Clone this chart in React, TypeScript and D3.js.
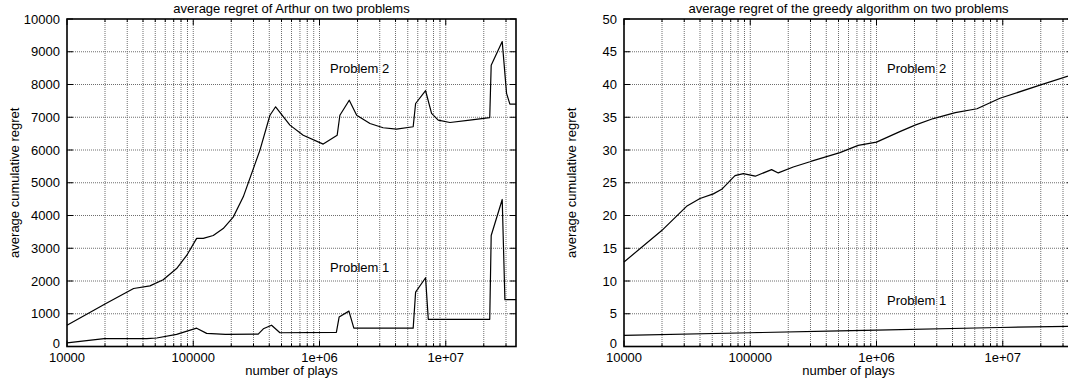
import React, { useEffect, useRef } from 'react'
import * as d3 from 'd3'

// number of plays (x) and average cumulative regret (y)
const arthurP2X = [1e4, 2e4, 3.37e4, 4.54e4, 5.78e4, 7.38e4, 8.87e4, 1.064e5, 1.2e5, 1.44e5, 1.726e5, 2.073e5, 2.49e5, 3.37e5, 4.05e5, 4.49e5, 5.83e5, 7.43e5, 1.07e6, 1.38e6, 1.45e6, 1.72e6, 1.97e6, 2.51e6, 3.19e6, 4.07e6, 5.52e6, 5.77e6, 6.92e6, 7.72e6, 8.71e6, 1.08e7, 1.55e7, 2.23e7, 2.29e7, 2.8e7, 3.03e7, 3.22e7, 3.6e7]
const arthurP2Y = [650, 1300, 1770, 1850, 2040, 2380, 2780, 3300, 3300, 3390, 3600, 3950, 4570, 5990, 7060, 7320, 6760, 6450, 6180, 6450, 7060, 7520, 7060, 6810, 6680, 6640, 6710, 7420, 7810, 7120, 6910, 6840, 6910, 6990, 8590, 9310, 7730, 7400, 7400]

const arthurP1X = [1e4, 1.97e4, 4.28e4, 5.13e4, 7.38e4, 1.064e5, 1.277e5, 1.8e5, 3.27e5, 3.59e5, 4.17e5, 4.86e5, 1.36e6, 1.43e6, 1.71e6, 1.87e6, 5.52e6, 5.77e6, 6.92e6, 7.27e6, 2.23e7, 2.29e7, 2.8e7, 2.94e7, 3.6e7]
const arthurP1Y = [110, 240, 240, 260, 370, 560, 400, 370, 380, 540, 650, 420, 430, 900, 1080, 560, 560, 1660, 2100, 830, 830, 3390, 4490, 1430, 1430]

const greedyP2X = [1e4, 1.99e4, 3.13e4, 4e4, 5.1e4, 5.94e4, 7.57e4, 8.81e4, 1.096e5, 1.476e5, 1.667e5, 2.19e5, 2.97e5, 3.06e5, 5.13e5, 7.16e5, 1e6, 1.53e6, 2.02e6, 2.82e6, 4.21e6, 6.25e6, 9.5e6, 1.97e7, 3.29e7, 3.6e7]
const greedyP2Y = [12.9, 17.7, 21.4, 22.6, 23.3, 24.0, 26.1, 26.4, 26.0, 27.0, 26.5, 27.4, 28.2, 28.3, 29.6, 30.7, 31.2, 32.8, 33.8, 34.8, 35.7, 36.3, 37.9, 39.9, 41.3, 41.6]

const greedyP1X = [1e4, 1e5, 5.13e5, 1e6, 9.5e6, 3.6e7]
const greedyP1Y = [1.7, 2.1, 2.4, 2.5, 2.9, 3.1]

const arthurYTicks = [0, 1000, 2000, 3000, 4000, 5000, 6000, 7000, 8000, 9000, 10000]
const greedyYTicks = [0, 5, 10, 15, 20, 25, 30, 35, 40, 45, 50]
const xTickValues = [1e4, 1e5, 1e6, 1e7]
const xTickLabels = ['10000', '100000', '1e+06', '1e+07']

const FONT = '"Liberation Sans", Arial, Helvetica, sans-serif'

function Panel({ svgRef, left, title, yMax, yTicks, series, labels }) {
  useEffect(() => {
    const svg = d3.select(svgRef.current)
    const g = svg.append('g').attr('transform', `translate(${left},0)`)

    const innerWidth = 449
    const top = 19
    const bottom = 346.5

    const xScale = d3.scaleLog().domain([1e4, 3.6e7]).range([0, innerWidth])
    const yScale = d3.scaleLinear().domain([0, yMax]).range([bottom, top])

    // minor + major x positions for the grid
    const xGrid = []
    for (let p = 4; p <= 7; p++) {
      for (let m = 1; m <= 9; m++) {
        const v = m * Math.pow(10, p)
        if (v <= 3.6e7) xGrid.push(v)
      }
    }

    // grid
    g.selectAll('.xgrid')
      .data(xGrid.filter(v => v > 1e4))
      .enter().append('line')
      .attr('x1', d => xScale(d)).attr('x2', d => xScale(d))
      .attr('y1', top).attr('y2', bottom)
      .attr('stroke', '#6e6e6e')
      .attr('stroke-width', 1)
      .attr('stroke-dasharray', '1,1')

    g.selectAll('.ygrid')
      .data(yTicks.filter(v => v > 0 && v < yMax))
      .enter().append('line')
      .attr('x1', 0).attr('x2', innerWidth)
      .attr('y1', d => yScale(d)).attr('y2', d => yScale(d))
      .attr('stroke', '#6e6e6e')
      .attr('stroke-width', 1)
      .attr('stroke-dasharray', '1,1')

    // ticks along the border
    g.selectAll('.xtick')
      .data(xGrid)
      .enter().append('g')
      .each(function (d) {
        const major = xTickValues.includes(d)
        const len = major ? 6 : 3
        const x = xScale(d)
        d3.select(this).append('line')
          .attr('x1', x).attr('x2', x).attr('y1', bottom).attr('y2', bottom - len)
          .attr('stroke', '#000').attr('stroke-width', 1)
        d3.select(this).append('line')
          .attr('x1', x).attr('x2', x).attr('y1', top).attr('y2', top + len)
          .attr('stroke', '#000').attr('stroke-width', 1)
      })

    g.selectAll('.ytick')
      .data(yTicks)
      .enter().append('g')
      .each(function (d) {
        const y = yScale(d)
        d3.select(this).append('line')
          .attr('x1', 0).attr('x2', 6).attr('y1', y).attr('y2', y)
          .attr('stroke', '#000').attr('stroke-width', 1)
        d3.select(this).append('line')
          .attr('x1', innerWidth).attr('x2', innerWidth - 6).attr('y1', y).attr('y2', y)
          .attr('stroke', '#000').attr('stroke-width', 1)
      })

    // border
    g.append('rect')
      .attr('x', 0).attr('y', top)
      .attr('width', innerWidth).attr('height', bottom - top)
      .attr('fill', 'none')
      .attr('stroke', '#000')
      .attr('stroke-width', 1.6)

    // curves
    const line = d3.line()
      .x(d => xScale(d[0]))
      .y(d => yScale(d[1]))

    series.forEach(s => {
      g.append('path')
        .datum(d3.zip(s.x, s.y))
        .attr('fill', 'none')
        .attr('stroke', '#000')
        .attr('stroke-width', 1.2)
        .attr('stroke-linejoin', 'round')
        .attr('d', line)
    })

    // tick labels
    g.selectAll('.ylabel')
      .data(yTicks)
      .enter().append('text')
      .attr('x', -7)
      .attr('y', d => yScale(d) - (d === 0 ? 3 : 0))
      .attr('dy', '0.35em')
      .attr('text-anchor', 'end')
      .style('font-family', FONT)
      .style('font-size', '13px')
      .text(d => d)

    g.selectAll('.xlabel')
      .data(xTickValues)
      .enter().append('text')
      .attr('x', d => xScale(d))
      .attr('y', 362)
      .attr('text-anchor', 'middle')
      .style('font-family', FONT)
      .style('font-size', '13px')
      .text((d, i) => xTickLabels[i])

    // titles
    g.append('text')
      .attr('x', innerWidth / 2)
      .attr('y', 13)
      .attr('text-anchor', 'middle')
      .style('font-family', FONT)
      .style('font-size', '13px')
      .text(title)

    g.append('text')
      .attr('x', innerWidth / 2)
      .attr('y', 375)
      .attr('text-anchor', 'middle')
      .style('font-family', FONT)
      .style('font-size', '13px')
      .text('number of plays')

    g.append('text')
      .attr('transform', `translate(-48, ${(top + bottom) / 2}) rotate(-90)`)
      .attr('text-anchor', 'middle')
      .style('font-family', FONT)
      .style('font-size', '13px')
      .text('average cumulative regret')

    labels.forEach(l => {
      g.append('text')
        .attr('x', l.x)
        .attr('y', l.y)
        .style('font-family', FONT)
        .style('font-size', '13px')
        .text(l.text)
    })
  }, [])
  return null
}

export default function App() {
  const svgRef = useRef()
  return (
    <div style={{ position: 'fixed', left: 0, top: 0 }}>
      <svg ref={svgRef} width={1068} height={379} style={{ display: 'block', background: '#fff' }}>
        <Panel
          svgRef={svgRef}
          left={67}
          title="average regret of Arthur on two problems"
          yMax={10000}
          yTicks={arthurYTicks}
          series={[{ x: arthurP2X, y: arthurP2Y }, { x: arthurP1X, y: arthurP1Y }]}
          labels={[{ text: 'Problem 2', x: 263, y: 73 }, { text: 'Problem 1', x: 263, y: 272 }]}
        />
        <Panel
          svgRef={svgRef}
          left={624}
          title="average regret of the greedy algorithm on two problems"
          yMax={50}
          yTicks={greedyYTicks}
          series={[{ x: greedyP2X, y: greedyP2Y }, { x: greedyP1X, y: greedyP1Y }]}
          labels={[{ text: 'Problem 2', x: 263, y: 73 }, { text: 'Problem 1', x: 263, y: 305 }]}
        />
      </svg>
    </div>
  )
}
